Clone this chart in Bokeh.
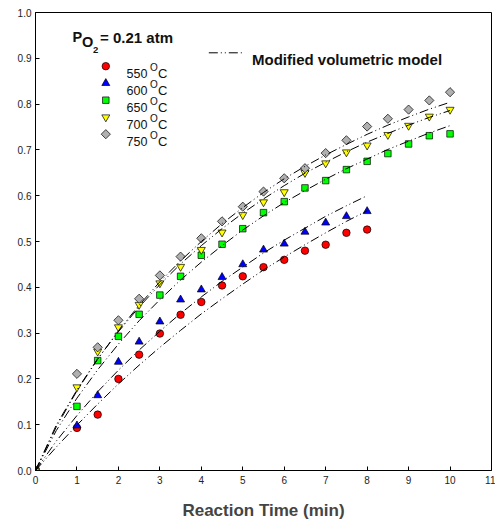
import numpy as np
from bokeh.plotting import figure
from bokeh.models import Range1d, Label, FixedTicker, NumeralTickFormatter
from bokeh.embed import file_html
from bokeh.resources import INLINE

# ---------------- data ----------------
time_short = [0, 1, 1.5, 2, 2.5, 3, 3.5, 4, 4.5, 5, 5.5, 6, 6.5, 7, 7.5, 8]
time_long = [0, 1, 1.5, 2, 2.5, 3, 3.5, 4, 4.5, 5, 5.5, 6, 6.5, 7, 7.5, 8, 8.5, 9, 9.5, 10]

x550 = [0, 0.093, 0.122, 0.200, 0.253, 0.299, 0.340, 0.368, 0.404, 0.424, 0.444, 0.460, 0.480, 0.493, 0.519, 0.526]
x600 = [0, 0.098, 0.164, 0.237, 0.281, 0.325, 0.373, 0.395, 0.422, 0.450, 0.482, 0.495, 0.521, 0.541, 0.555, 0.566]
x650 = [0, 0.140, 0.240, 0.293, 0.341, 0.383, 0.424, 0.470, 0.494, 0.528, 0.563, 0.587, 0.617, 0.633, 0.657, 0.675, 0.692, 0.713, 0.731, 0.735]
x700 = [0, 0.182, 0.260, 0.313, 0.362, 0.409, 0.445, 0.482, 0.520, 0.558, 0.586, 0.608, 0.650, 0.671, 0.695, 0.710, 0.733, 0.753, 0.773, 0.788]
x750 = [0, 0.211, 0.269, 0.328, 0.375, 0.426, 0.467, 0.507, 0.544, 0.576, 0.609, 0.638, 0.660, 0.693, 0.721, 0.751, 0.768, 0.788, 0.808, 0.826]

model_t_short = [0, 0.5, 1, 1.5, 2, 2.5, 3, 3.5, 4, 4.5, 5, 5.5, 6, 6.5, 7, 7.5, 8]
model_t_long = [0, 0.5, 1, 1.5, 2, 2.5, 3, 3.5, 4, 4.5, 5, 5.5, 6, 6.5, 7, 7.5, 8, 8.5, 9, 9.5, 10]
model550 = [0, 0.051, 0.099, 0.145, 0.189, 0.230, 0.269, 0.306, 0.342, 0.375, 0.407, 0.438, 0.466, 0.493, 0.519, 0.544, 0.567]
model600 = [0, 0.064, 0.120, 0.172, 0.219, 0.263, 0.304, 0.343, 0.379, 0.413, 0.444, 0.475, 0.503, 0.529, 0.555, 0.578, 0.600]
model650 = [0, 0.087, 0.158, 0.220, 0.276, 0.327, 0.373, 0.416, 0.455, 0.491, 0.525, 0.556, 0.585, 0.611, 0.636, 0.659, 0.680, 0.701, 0.719, 0.737, 0.753]
model700 = [0, 0.099, 0.176, 0.244, 0.303, 0.357, 0.406, 0.451, 0.491, 0.528, 0.562, 0.593, 0.622, 0.649, 0.673, 0.696, 0.717, 0.736, 0.754, 0.771, 0.786]
model750 = [0, 0.095, 0.174, 0.243, 0.305, 0.361, 0.412, 0.458, 0.500, 0.539, 0.574, 0.607, 0.637, 0.664, 0.689, 0.712, 0.734, 0.754, 0.772, 0.789, 0.804]

temp_labels = ["550", "600", "650", "700", "750"]
x_ticks = [0, 1, 2, 3, 4, 5, 6, 7, 8, 9, 10, 11]
y_ticks = [0.0, 0.1, 0.2, 0.3, 0.4, 0.5, 0.6, 0.7, 0.8, 0.9, 1.0]

FONT = "Liberation Sans"

# ---------------- figure ----------------
p = figure(width=495, height=522, x_range=Range1d(0, 11), y_range=Range1d(0, 1.0),
           output_backend="svg", toolbar_location=None,
           min_border_left=35, min_border_right=4, min_border_top=12, min_border_bottom=52)
p.xgrid.visible = False
p.ygrid.visible = False
p.outline_line_color = "black"
p.outline_line_width = 1
p.background_fill_color = "white"
p.border_fill_color = "white"

for ax in (p.xaxis[0], p.yaxis[0]):
    ax.axis_line_color = "black"
    ax.major_tick_in = 4
    ax.major_tick_out = 0
    ax.minor_tick_line_color = None
    ax.major_tick_line_color = "black"
    ax.major_label_text_font = FONT
    ax.major_label_text_font_size = "10px"
    ax.major_label_text_color = "#222222"

p.xaxis.ticker = FixedTicker(ticks=x_ticks)
p.yaxis.ticker = FixedTicker(ticks=y_ticks)
p.yaxis.formatter = NumeralTickFormatter(format="0.0")
p.xaxis.major_label_standoff = 5
p.yaxis.major_label_standoff = 4
p.xaxis.axis_label = "Reaction Time (min)"
p.xaxis.axis_label_text_font = FONT
p.xaxis.axis_label_text_font_style = "bold"
p.xaxis.axis_label_text_font_size = "17px"
p.xaxis.axis_label_standoff = 14

# pixel-to-data helpers for annotation placement
def px2x(px):
    return (px - 35) / 41.45

def py2y(py):
    return (470 - py) / 458.0

DASH = "9 3 1 3 1 3"

styles = [
    dict(marker="circle", fill_color="#FF0000", size=7.5, angle=0.0),
    dict(marker="triangle", fill_color="#0000FF", size=8, angle=0.0),
    dict(marker="square", fill_color="#00FF00", size=6.5, angle=0.0),
    dict(marker="inverted_triangle", fill_color="#FFFF00", size=8, angle=0.0),
    dict(marker="square", fill_color="#B0B0B0", size=6.5, angle=np.pi / 4),
]

series = [(time_short, x550), (time_short, x600), (time_long, x650), (time_long, x700), (time_long, x750)]
for (tx, ty), st in zip(series, styles):
    p.scatter(tx, ty, marker=st["marker"], size=st["size"], angle=st["angle"],
              fill_color=st["fill_color"], line_color="black", line_width=0.7)

models = [(model_t_short, model550), (model_t_short, model600), (model_t_long, model650),
          (model_t_long, model700), (model_t_long, model750)]
for mx, my in models:
    p.line(mx, my, line_color="black", line_width=1, line_dash=DASH)

# ---------------- legend ----------------
leg_x = px2x(105.3)
for i, (lab, st) in enumerate(zip(temp_labels, styles)):
    my = 65.7 + 17 * i
    p.scatter([leg_x], [py2y(my)], marker=st["marker"], size=st["size"], angle=st["angle"],
              fill_color=st["fill_color"], line_color="black", line_width=0.7)
    p.add_layout(Label(x=px2x(126), y=py2y(my + 7), text=lab, text_font=FONT,
                       text_font_size="12.5px", text_color="#111111", text_baseline="alphabetic"))
    p.add_layout(Label(x=px2x(149.5), y=py2y(my + 1), text="O", text_font=FONT,
                       text_font_size="10px", text_color="#111111", text_baseline="alphabetic"))
    p.add_layout(Label(x=px2x(157.5), y=py2y(my + 7), text="C", text_font=FONT,
                       text_font_size="13px", text_color="#111111", text_baseline="alphabetic"))

# model legend
p.line([px2x(208.3), px2x(243.3)], [py2y(52.3), py2y(52.3)], line_color="black", line_width=1, line_dash=DASH)
p.add_layout(Label(x=px2x(251.5), y=py2y(59), text="Modified volumetric model", text_font=FONT,
                   text_font_size="15px", text_font_style="bold", text_color="#111111",
                   text_baseline="alphabetic"))

# P_O2 title
p.add_layout(Label(x=px2x(72), y=py2y(36.7), text="P", text_font=FONT, text_font_size="14.5px",
                   text_font_style="bold", text_color="#111111", text_baseline="alphabetic"))
p.add_layout(Label(x=px2x(81.5), y=py2y(41.7), text="O", text_font=FONT, text_font_size="14.5px",
                   text_font_style="bold", text_color="#111111", text_baseline="alphabetic"))
p.add_layout(Label(x=px2x(92.5), y=py2y(49), text="2", text_font=FONT, text_font_size="9.5px",
                   text_font_style="bold", text_color="#111111", text_baseline="alphabetic"))
p.add_layout(Label(x=px2x(99.5), y=py2y(36.7), text="= 0.21 atm", text_font=FONT, text_font_size="15px",
                   text_font_style="bold", text_color="#111111", text_baseline="alphabetic"))

open("out.html", "w").write(file_html(p, INLINE))
